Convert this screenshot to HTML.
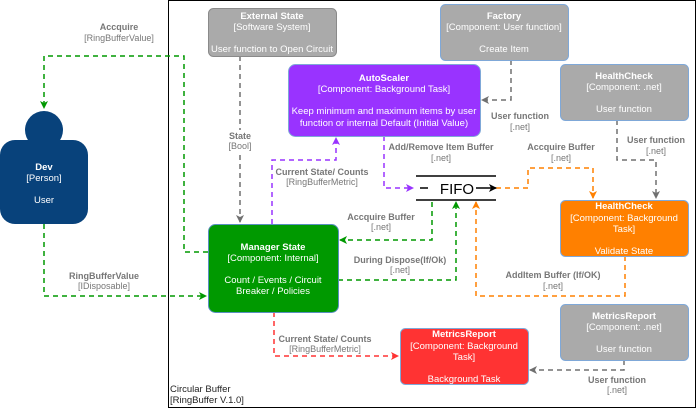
<!DOCTYPE html>
<html><head><meta charset="utf-8"><style>
html,body{margin:0;padding:0;background:#fff}
svg{display:block}
text{font-family:"Liberation Sans",sans-serif}
.t{fill:#fff;font-size:9.5px;text-anchor:middle}
.b{font-weight:bold}
.l{fill:#777;font-size:9px;text-anchor:middle}
</style></head><body>
<svg width="697" height="409" viewBox="0 0 697 409" xmlns="http://www.w3.org/2000/svg">
<defs>
<marker id="ag" markerWidth="8" markerHeight="8" refX="7" refY="4" orient="auto" markerUnits="userSpaceOnUse"><path d="M0,0 L8,4 L0,8 L2,4 Z" fill="#009900"/></marker>
<marker id="ay" markerWidth="8" markerHeight="8" refX="7" refY="4" orient="auto" markerUnits="userSpaceOnUse"><path d="M0,0 L8,4 L0,8 L2,4 Z" fill="#707070"/></marker>
<marker id="ap" markerWidth="8" markerHeight="8" refX="7" refY="4" orient="auto" markerUnits="userSpaceOnUse"><path d="M0,0 L8,4 L0,8 L2,4 Z" fill="#9933ff"/></marker>
<marker id="ao" markerWidth="8" markerHeight="8" refX="7" refY="4" orient="auto" markerUnits="userSpaceOnUse"><path d="M0,0 L8,4 L0,8 L2,4 Z" fill="#ff8000"/></marker>
<marker id="ar" markerWidth="8" markerHeight="8" refX="7" refY="4" orient="auto" markerUnits="userSpaceOnUse"><path d="M0,0 L8,4 L0,8 L2,4 Z" fill="#ff3333"/></marker>
<marker id="ak" markerWidth="8" markerHeight="8" refX="7" refY="4" orient="auto" markerUnits="userSpaceOnUse"><path d="M0,0 L8,4 L0,8 L2,4 Z" fill="#000"/></marker>
</defs>
<rect x="168.5" y="0.5" width="527" height="407" fill="none" stroke="#000" stroke-width="1"/>
<text x="170" y="392" font-size="9.5" fill="#222">Circular Buffer</text>
<text x="170" y="403" font-size="9.5" fill="#222">[RingBuffer V.1.0]</text>

<g fill="none" stroke-width="1.5" stroke-dasharray="5,4">
<path d="M208,252 H184 V56 H44 V108" stroke="#009900" marker-end="url(#ag)"/>
<path d="M44,224 V296 H206" stroke="#009900" marker-end="url(#ag)"/>
<path d="M240,56 V222" stroke="#707070" marker-end="url(#ay)"/>
<path d="M272,224 V160 H336 V138" stroke="#9933ff" marker-end="url(#ap)"/>
<path d="M511,60 V100 H482" stroke="#707070" marker-end="url(#ay)"/>
<path d="M384,136 V188 H413" stroke="#9933ff" marker-end="url(#ap)"/>
<path d="M496,188 H528 V168 H593 V198" stroke="#ff8000" marker-end="url(#ao)"/>
<path d="M617,120 V160 H656 V198" stroke="#707070" marker-end="url(#ay)"/>
<path d="M432,202 V240 H340" stroke="#009900" marker-end="url(#ag)"/>
<path d="M338,280 H456 V202" stroke="#009900" marker-end="url(#ag)"/>
<path d="M625,256 V296 H476 V202" stroke="#ff8000" marker-end="url(#ao)"/>
<path d="M274,312 V356 H398" stroke="#ff3333" marker-end="url(#ar)"/>
<path d="M624,360 V370 H530" stroke="#707070" marker-end="url(#ay)"/>
</g>

<!-- FIFO -->
<line x1="416" y1="176" x2="496" y2="176" stroke="#000" stroke-width="1.5"/>
<line x1="416" y1="200" x2="496" y2="200" stroke="#000" stroke-width="1.5"/>
<line x1="420" y1="188" x2="428" y2="188" stroke="#000" stroke-width="1.5"/>
<text x="457" y="194" font-size="15" text-anchor="middle" fill="#000">FIFO</text>
<line x1="476" y1="188" x2="496" y2="188" stroke="#000" stroke-width="1.5" marker-end="url(#ak)"/>

<!-- Dev -->
<circle cx="44" cy="130" r="19" fill="#08427b"/>
<rect x="0" y="140" width="88" height="84" rx="15" fill="#08427b"/>
<text class="t b" x="44" y="170">Dev</text>
<text class="t" x="44" y="181">[Person]</text>
<text class="t" x="44" y="203">User</text>

<!-- boxes -->
<rect x="208.5" y="8.5" width="128" height="48" rx="5" fill="#aaaaaa" stroke="#8a8a8a"/>
<text class="t b" x="272" y="19">External State</text>
<text class="t" x="272" y="30">[Software System]</text>
<text class="t" x="272" y="52">User function to Open Circuit</text>

<rect x="440.5" y="4.5" width="128" height="56" rx="5" fill="#aaaaaa" stroke="#7fa8d8"/>
<text class="t b" x="504" y="19">Factory</text>
<text class="t" x="504" y="30">[Component: User function]</text>
<text class="t" x="504" y="52">Create Item</text>

<rect x="288.5" y="64.5" width="192" height="72" rx="7" fill="#9933ff" stroke="#7fa8d8"/>
<text class="t b" x="384" y="81">AutoScaler</text>
<text class="t" x="384" y="92">[Component: Background Task]</text>
<text class="t" x="384" y="114">Keep minimum and maximum items by user</text>
<text class="t" x="384" y="126">function or internal Default (Initial Value)</text>

<rect x="560.5" y="64.5" width="128" height="56" rx="5" fill="#aaaaaa" stroke="#7fa8d8"/>
<text class="t b" x="624" y="79">HealthCheck</text>
<text class="t" x="624" y="90">[Component: .net]</text>
<text class="t" x="624" y="112">User function</text>

<rect x="560.5" y="200.5" width="128" height="56" rx="5" fill="#ff8000" stroke="#7fa8d8"/>
<text class="t b" x="624" y="209">HealthCheck</text>
<text class="t" x="624" y="221">[Component: Background</text>
<text class="t" x="624" y="232">Task]</text>
<text class="t" x="624" y="254">Validate State</text>

<rect x="208.5" y="224.5" width="130" height="88" rx="7" fill="#009900" stroke="#5a8fc0"/>
<text class="t b" x="273" y="250">Manager State</text>
<text class="t" x="273" y="261">[Component: Internal]</text>
<text class="t" x="273" y="283">Count / Events / Circuit</text>
<text class="t" x="273" y="294">Breaker / Policies</text>

<rect x="400.5" y="328.5" width="128" height="56" rx="5" fill="#ff3333" stroke="#7fa8d8"/>
<text class="t b" x="464" y="337">MetricsReport</text>
<text class="t" x="464" y="349">[Component: Background</text>
<text class="t" x="464" y="360">Task]</text>
<text class="t" x="464" y="382">Background Task</text>

<rect x="560.5" y="304.5" width="128" height="56" rx="5" fill="#aaaaaa" stroke="#7fa8d8"/>
<text class="t b" x="624" y="319">MetricsReport</text>
<text class="t" x="624" y="330">[Component: .net]</text>
<text class="t" x="624" y="352">User function</text>

<!-- labels -->
<rect x="227" y="130" width="26" height="22" fill="#fff"/>
<text class="l b" x="119" y="30">Accquire</text><text class="l" x="119" y="41">[RingBufferValue]</text>
<text class="l b" x="104" y="279">RingBufferValue</text><text class="l" x="104" y="289">[IDisposable]</text>
<text class="l b" x="240" y="139">State</text><text class="l" x="240" y="149">[Bool]</text>
<text class="l b" x="322" y="175">Current State/ Counts</text><text class="l" x="322" y="185">[RingBufferMetric]</text>
<text class="l b" x="520" y="119">User function</text><text class="l" x="520" y="130">[.net]</text>
<text class="l b" x="441" y="150">Add/Remove Item Buffer</text><text class="l" x="441" y="161">[.net]</text>
<text class="l b" x="561" y="150">Accquire Buffer</text><text class="l" x="561" y="161">[.net]</text>
<text class="l b" x="656" y="143">User function</text><text class="l" x="656" y="154">[.net]</text>
<text class="l b" x="381" y="220">Accquire Buffer</text><text class="l" x="381" y="230">[.net]</text>
<text class="l b" x="400" y="263">During Dispose(If/Ok)</text><text class="l" x="400" y="273">[.net]</text>
<text class="l b" x="553" y="278">AddItem Buffer (If/OK)</text><text class="l" x="553" y="289">[.net]</text>
<text class="l b" x="325" y="342">Current State/ Counts</text><text class="l" x="325" y="352">[RingBufferMetric]</text>
<text class="l b" x="617" y="383">User function</text><text class="l" x="617" y="393">[.net]</text>
</svg>
</body></html>
